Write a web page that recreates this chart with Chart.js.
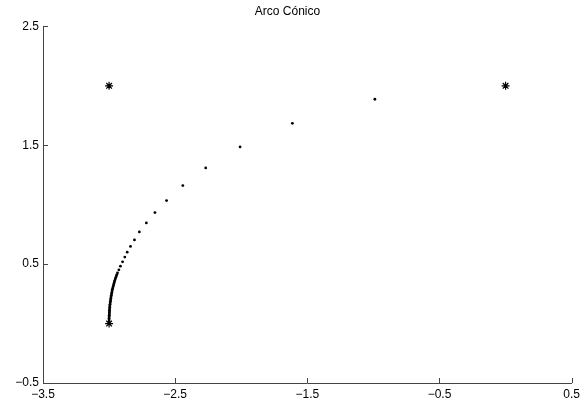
<!DOCTYPE html>
<html>
<head>
<meta charset="utf-8">
<style>
  body { margin: 0; background: #fff; }
</style>
</head>
<body>
<canvas id="myChart" width="584" height="405"></canvas>

<script src="https://cdn.jsdelivr.net/npm/chart.js"></script>

<script>
  // puntos del arco
  const arcoX = [-0.989, -1.613, -2.009, -2.269, -2.442, -2.565, -2.653, -2.718, -2.771, -2.808,
                 -2.838, -2.863, -2.881, -2.898, -2.914, -2.926, -2.936, -2.941, -2.945, -2.949,
                 -2.953, -2.957, -2.960, -2.963, -2.966, -2.969, -2.972, -2.975, -2.977, -2.979,
                 -2.981, -2.983, -2.985, -2.987, -2.988, -2.990, -2.991, -2.993, -2.994, -2.995,
                 -2.996, -2.997, -2.997, -2.998, -2.998, -2.999, -2.999, -3.000, -3.000, -3.000,
                 -3.000];
  const arcoY = [1.887, 1.685, 1.486, 1.309, 1.161, 1.035, 0.934, 0.847, 0.771, 0.704,
                 0.649, 0.601, 0.559, 0.519, 0.483, 0.452, 0.427, 0.412, 0.400, 0.388,
                 0.375, 0.362, 0.350, 0.338, 0.325, 0.312, 0.300, 0.288, 0.275, 0.262,
                 0.250, 0.238, 0.225, 0.212, 0.200, 0.188, 0.175, 0.162, 0.150, 0.138,
                 0.125, 0.112, 0.100, 0.090, 0.080, 0.070, 0.060, 0.045, 0.030, 0.015,
                 0.000];
  // puntos de control
  const controlX = [-3, -3, 0];
  const controlY = [0, 2, 2];
  const xTicks = [-3.5, -2.5, -1.5, -0.5, 0.5];
  const yTicks = [-0.5, 0.5, 1.5, 2.5];

  const fmt = v => (v < 0 ? '\u2212' : '') + Math.abs(v).toFixed(1);

  // marcas de los ejes hacia dentro, como en MATLAB
  const inwardTicks = {
    id: 'inwardTicks',
    afterDraw(chart) {
      const c = chart.ctx, a = chart.chartArea;
      const sx = chart.scales.x, sy = chart.scales.y;
      c.save();
      c.strokeStyle = '#444';
      c.lineWidth = 1;
      c.beginPath();
      xTicks.forEach(v => {
        const px = Math.round(sx.getPixelForValue(v)) + 0.5;
        c.moveTo(px, a.bottom);
        c.lineTo(px, a.bottom - 5);
      });
      yTicks.forEach(v => {
        const py = Math.round(sy.getPixelForValue(v)) + 0.5;
        c.moveTo(a.left, py);
        c.lineTo(a.left + 5, py);
      });
      c.stroke();
      c.restore();
    }
  };

  Chart.defaults.font.family = '"Liberation Sans", Arial, Helvetica, sans-serif';
  Chart.defaults.font.size = 12;
  Chart.defaults.color = '#000';

  new Chart(document.getElementById('myChart'), {
    type: 'scatter',
    data: {
      datasets: [{
        label: 'arco',
        data: arcoX.map((x, i) => ({ x: x, y: arcoY[i] })),
        pointStyle: 'circle',
        pointRadius: 1.4,
        backgroundColor: '#000',
        borderColor: '#000',
        borderWidth: 0
      }, {
        label: 'control',
        data: controlX.map((x, i) => ({ x: x, y: controlY[i] })),
        pointStyle: 'star',
        pointRadius: 4,
        borderColor: '#000',
        borderWidth: 1.2
      }]
    },
    options: {
      responsive: false,
      animation: false,
      events: [],
      layout: {
        padding: { left: 0, right: 9, top: 0, bottom: 0 }
      },
      plugins: {
        legend: { display: false },
        tooltip: { enabled: false },
        title: {
          display: true,
          text: 'Arco Cónico',
          font: { size: 12, weight: 'normal' },
          color: '#000',
          padding: { top: 4, bottom: 8 }
        }
      },
      scales: {
        x: {
          type: 'linear',
          min: -3.5,
          max: 0.5,
          afterBuildTicks: s => { s.ticks = xTicks.map(v => ({ value: v })); },
          afterFit: s => { s.height = 22; },
          grid: { display: false, drawTicks: false },
          border: { display: true, color: '#444', width: 1 },
          ticks: { callback: fmt, padding: 4, maxRotation: 0, autoSkip: false }
        },
        y: {
          type: 'linear',
          min: -0.5,
          max: 2.5,
          afterBuildTicks: s => { s.ticks = yTicks.map(v => ({ value: v })); },
          afterFit: s => { s.width = 43; },
          grid: { display: false, drawTicks: false },
          border: { display: true, color: '#444', width: 1 },
          ticks: { callback: fmt, padding: 4, autoSkip: false }
        }
      }
    },
    plugins: [inwardTicks]
  });
</script>
</body>
</html>
